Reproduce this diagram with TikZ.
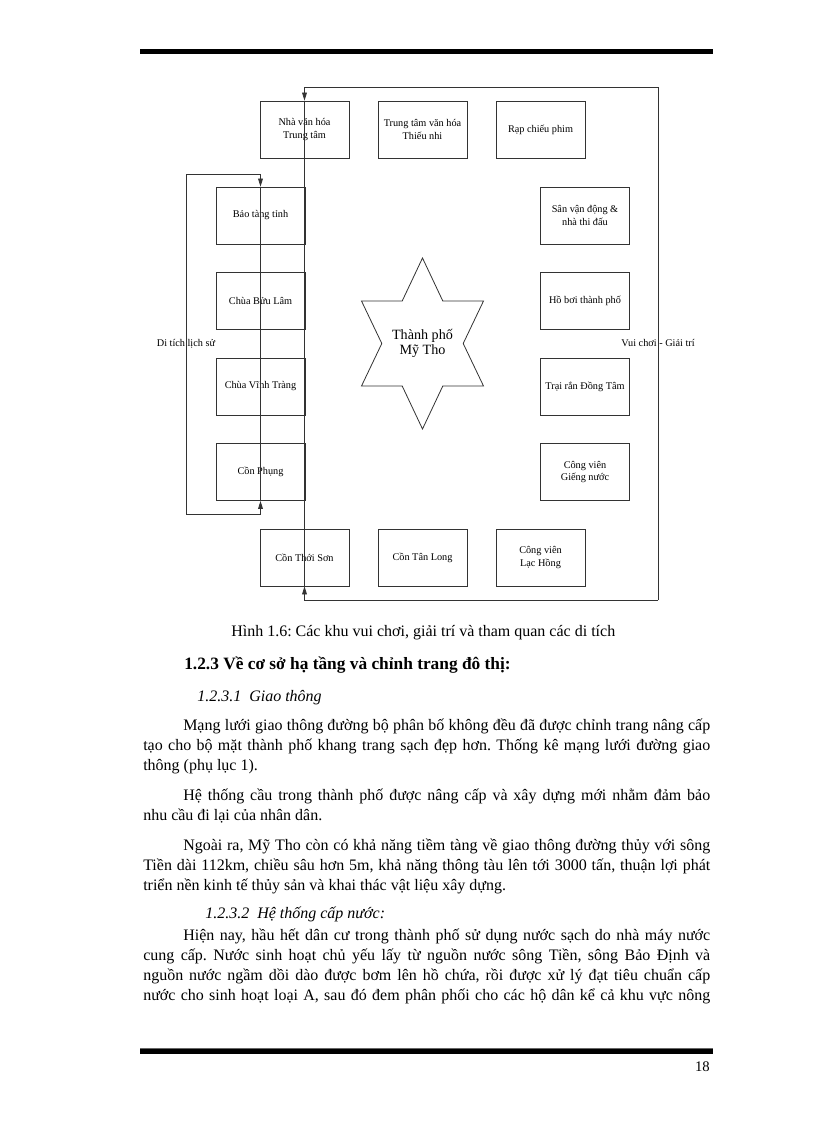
\documentclass[tikz,border=0pt]{standalone}
\usepackage{fontspec}
\setmainfont{Liberation Serif}
\usetikzlibrary{arrows.meta}
\frenchspacing

% justified lines of the page text
\newcommand{\fullline}[1]{\makebox[425.25pt][s]{#1}}
\newcommand{\indline}[1]{\makebox[395.25pt][s]{#1}}

\begin{document}
\begin{tikzpicture}[x=0.75pt, y=-0.75pt, >={Triangle[length=6pt,width=3.6pt]},
  place/.style={draw=black!80, line width=0.6pt, minimum width=66.75pt,
    minimum height=42.75pt, inner sep=1pt, align=center,
    font=\fontsize{7.7}{9.4}\selectfont},
  wire/.style={draw=black!80, line width=0.6pt},
  side/.style={inner sep=0pt, font=\fontsize{7.7}{9.4}\selectfont},
  body/.style={anchor=base west, inner sep=0pt, font=\fontsize{12}{14}\selectfont}]

  % Page
  \fill[white] (0,0) rectangle (816,1123);
  \useasboundingbox (0,0) rectangle (816,1123);
  \draw[line width=3.75pt] (140,51.5) -- (713,51.5);
  \draw[black!60, line width=0.75pt] (140,1048) -- (713,1048);
  \draw[line width=3.5pt] (140,1051.7) -- (713,1051.7);
  \node[anchor=base east, inner sep=0pt, font=\fontsize{11}{13}\selectfont] (pageno)
    at (710,1071) {18};

  % Top row
  \node[place] (nvh) at (304.5,129.5) {Nhà văn hóa\\Trung tâm};
  \node[place] (ttvh) at (422.5,129.5) {Trung tâm văn hóa\\Thiếu nhi};
  \node[place] (rap) at (540.5,129.5) {Rạp chiếu phim};

  % Right column
  \node[place] (svd) at (585,215.5) {Sân vận động \&\\nhà thi đấu};
  \node[place] (hoboi) at (585,300.5) {Hồ bơi thành phố};
  \node[place] (trairan) at (585,386.5) {Trại rắn Đồng Tâm};
  \node[place] (cvgn) at (585,472) {Công viên\\Giếng nước};

  % Bottom row
  \node[place] (cts) at (304.5,557.5) {Cồn Thới Sơn};
  \node[place] (ctl) at (422.5,557.5) {Cồn Tân Long};
  \node[place] (cvlh) at (540.5,557.5) {Công viên\\Lạc Hồng};

  % Left column
  \node[place] (btt) at (260.5,215.5) {Bảo tàng tỉnh};
  \node[place] (cbl) at (260.5,300.5) {Chùa Bửu Lâm};
  \node[place] (cvt) at (260.5,386.5) {Chùa Vĩnh Tràng};
  \node[place] (cp) at (260.5,472) {Cồn Phụng};

  % Star
  \draw[wire] (422.5,258) -- (442.8,301) -- (483.5,301) -- (463.2,343.5)
    -- (483.5,386) -- (442.8,386) -- (422.5,429) -- (402.2,386)
    -- (361.5,386) -- (381.8,343.5) -- (361.5,301) -- (402.2,301) -- cycle;
  \node[align=center, inner sep=0pt, font=\fontsize{10.6}{11.6}\selectfont] (city)
    at (422.5,343.5) {Thành phố\\Mỹ Tho};

  % Vui choi loop
  \coordinate (rtop) at (658,87);
  \coordinate (rbot) at (658,600);
  \draw[wire] (nvh.north) -- (cts.south);
  \draw[wire, ->] (rbot) -- node[side] (vui) {Vui chơi - Giải trí} (rtop) -| (nvh.north);
  \draw[wire, ->] (rbot) -| (cts.south);

  % Di tich loop
  \coordinate (ltop) at (186,174);
  \coordinate (lbot) at (186,514);
  \draw[wire] (btt.north) -- (cp.south);
  \draw[wire, ->] (lbot) -- node[side] (ditich) {Di tích lịch sử} (ltop) -| (btt.north);
  \draw[wire, ->] (lbot) -| (cp.south);

  % Caption and headings
  \node[body] (cap) at (231,636)
    {Hình 1.6: Các khu vui chơi, giải trí và tham quan các di tích};
  \node[body, font=\fontsize{13}{15}\selectfont\bfseries] (sec) at (184,669)
    {1.2.3 Về cơ sở hạ tầng và chỉnh trang đô thị:};
  \node[body, font=\fontsize{12}{14}\selectfont\itshape] (subA) at (197,701)
    {1.2.3.1\ \ Giao thông};

  % Text
  \node[body] (pa1) at (183,730) {\indline{Mạng lưới giao thông đường bộ phân bố không đều đã được chỉnh trang nâng cấp}};
  \node[body] (pa2) at (143,750) {\fullline{tạo cho bộ mặt thành phố khang trang sạch đẹp hơn. Thống kê mạng lưới đường giao}};
  \node[body] (pa3) at (143,770) {thông (phụ lục 1).};

  \node[body] (pb1) at (183,800) {\indline{Hệ thống cầu trong thành phố được nâng cấp và xây dựng mới nhằm đảm bảo}};
  \node[body] (pb2) at (143,820) {nhu cầu đi lại của nhân dân.};

  \node[body] (pc1) at (183,850) {\indline{Ngoài ra, Mỹ Tho còn có khả năng tiềm tàng về giao thông đường thủy với sông}};
  \node[body] (pc2) at (143,870) {\fullline{Tiền dài 112km, chiều sâu hơn 5m, khả năng thông tàu lên tới 3000 tấn, thuận lợi phát}};
  \node[body] (pc3) at (143,890) {triển nền kinh tế thủy sản và khai thác vật liệu xây dựng.};

  \node[body, font=\fontsize{12}{14}\selectfont\itshape] (subB) at (205,918)
    {1.2.3.2\ \ Hệ thống cấp nước:};

  \node[body] (pd1) at (183,940) {\indline{Hiện nay, hầu hết dân cư trong thành phố sử dụng nước sạch do nhà máy nước}};
  \node[body] (pd2) at (143,960) {\fullline{cung cấp. Nước sinh hoạt chủ yếu lấy từ nguồn nước sông Tiền, sông Bảo Định và}};
  \node[body] (pd3) at (143,980) {\fullline{nguồn nước ngầm dồi dào được bơm lên hồ chứa, rồi được xử lý đạt tiêu chuẩn cấp}};
  \node[body] (pd4) at (143,1000) {\fullline{nước cho sinh hoạt loại A, sau đó đem phân phối cho các hộ dân kể cả khu vực nông}};
\end{tikzpicture}
\end{document}
